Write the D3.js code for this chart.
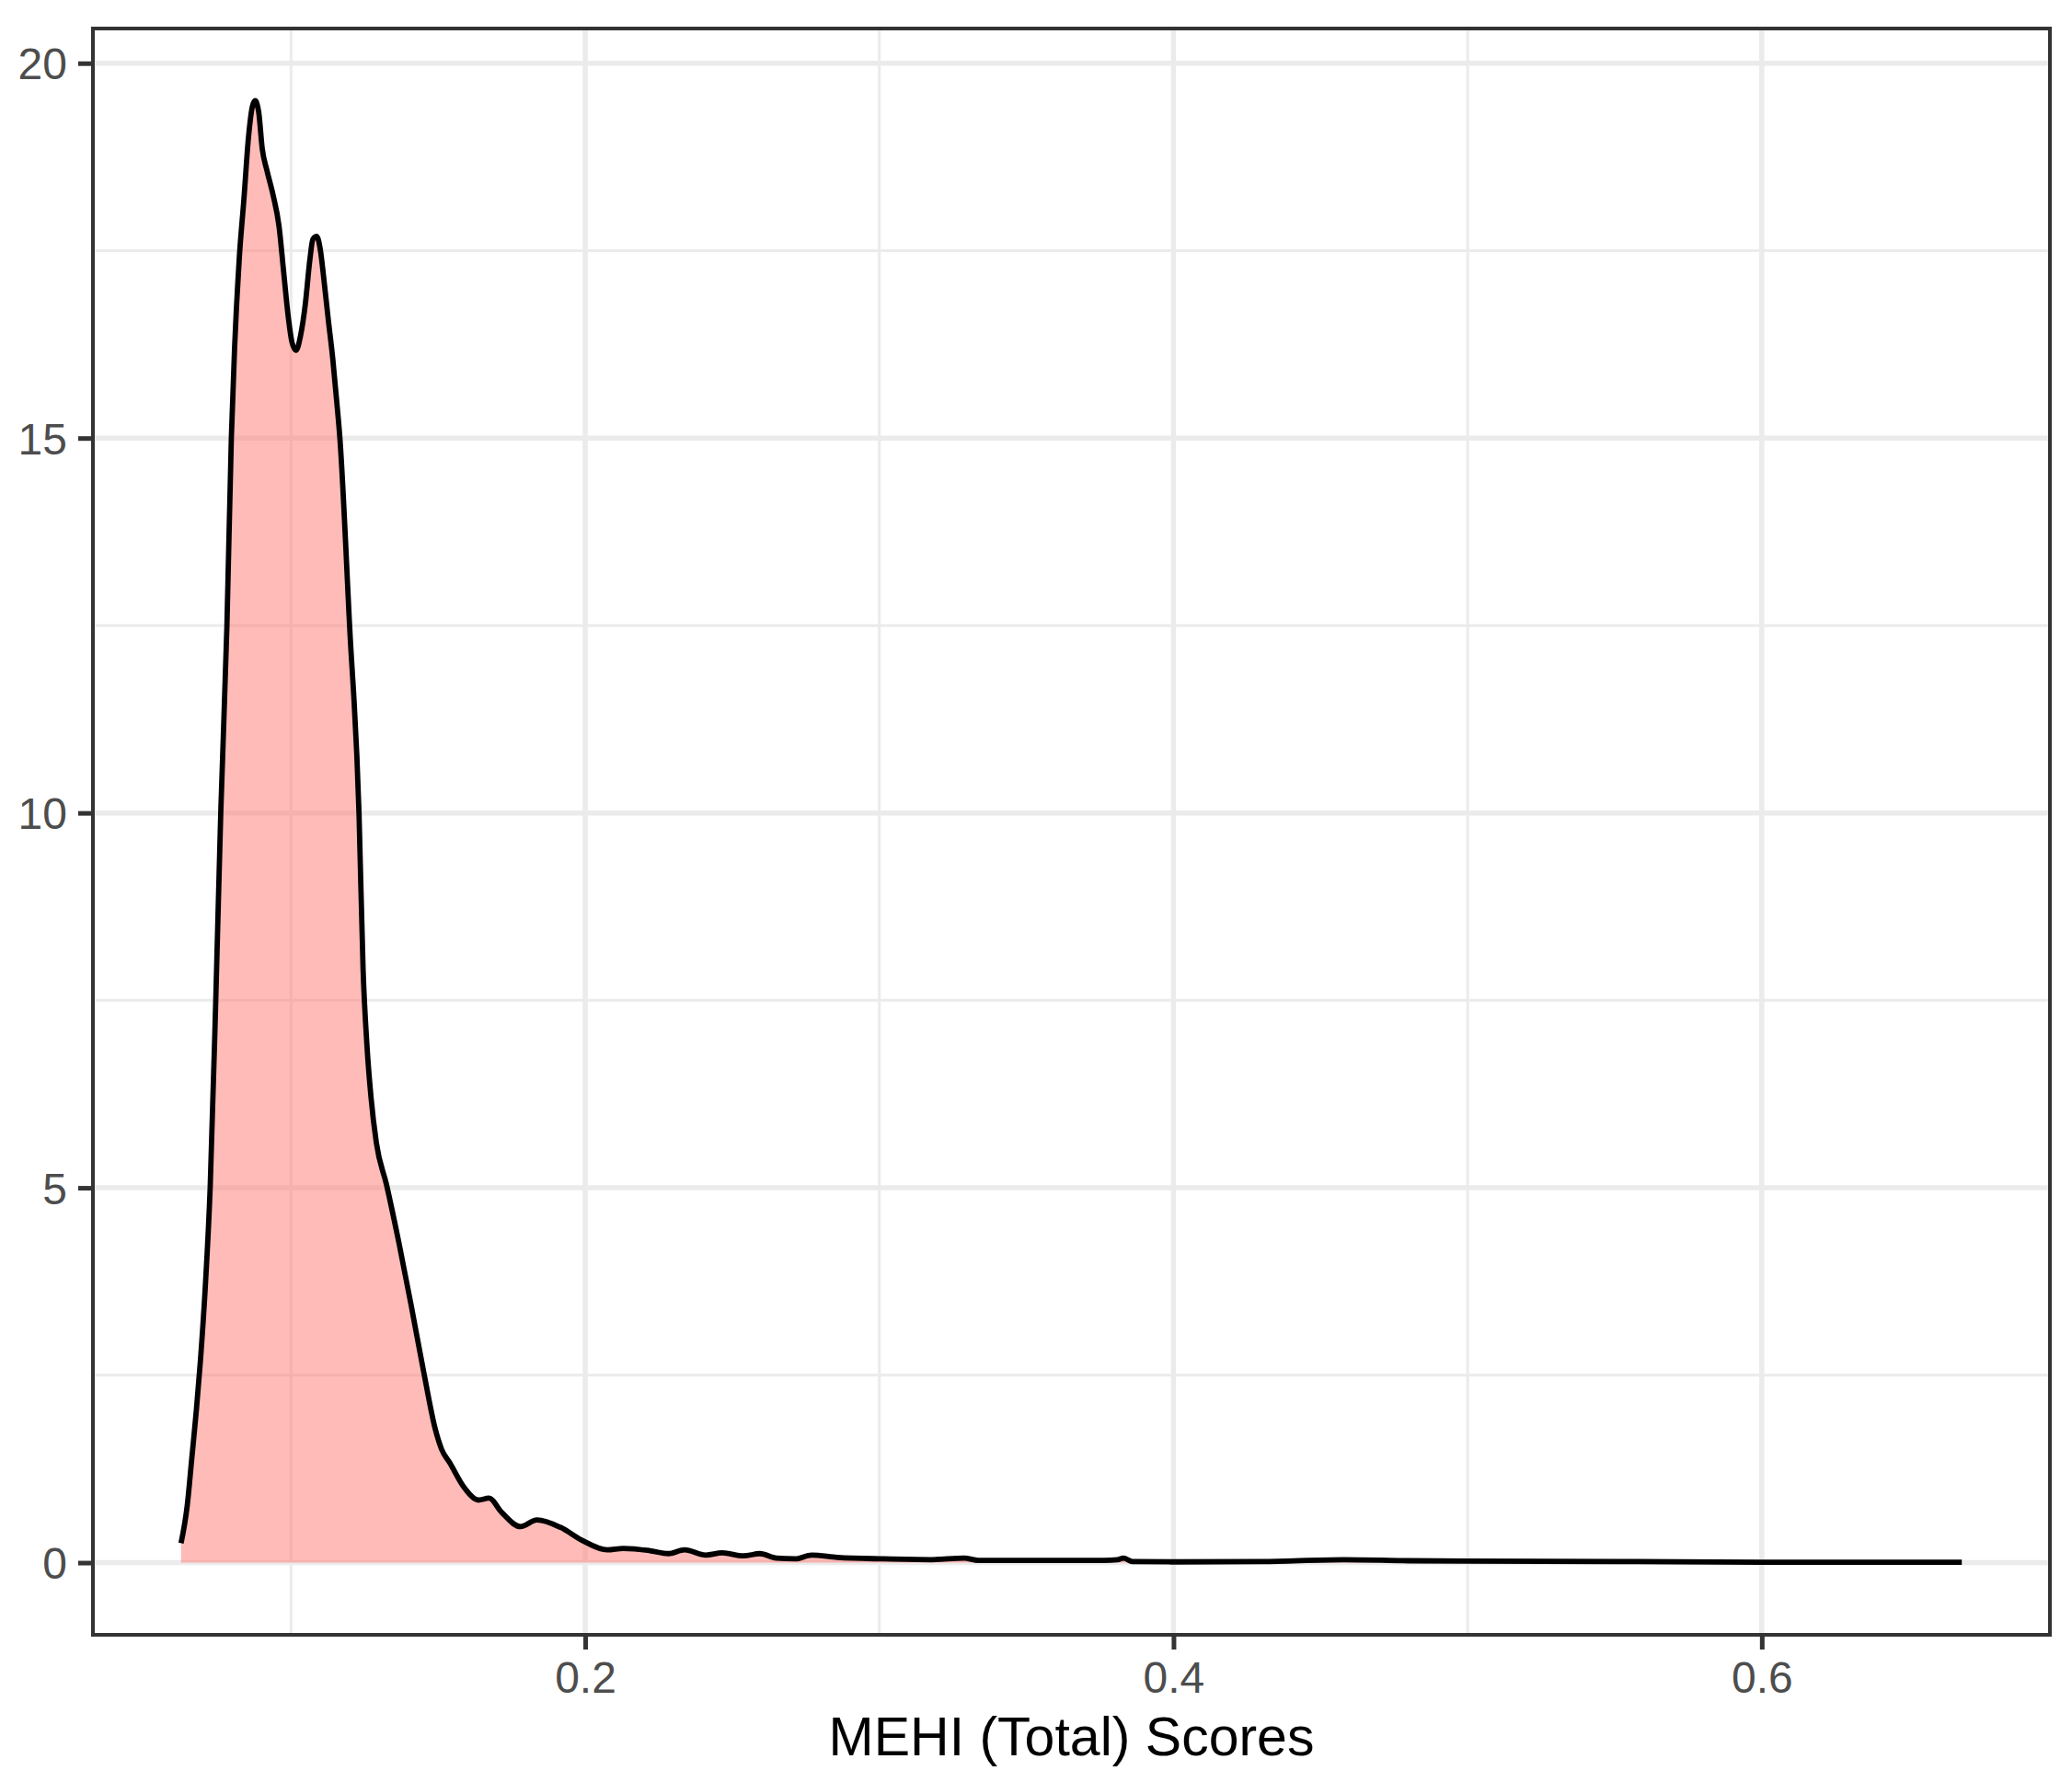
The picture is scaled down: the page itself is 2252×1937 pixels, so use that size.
<!DOCTYPE html>
<html>
<head>
<meta charset="utf-8">
<script src="https://cdn.jsdelivr.net/npm/d3@7"></script>
<style>
  html, body { margin: 0; padding: 0; background: #ffffff; }
  svg { display: block; }
</style>
</head>
<body>
<script>
// ---- Data ----
const scoreX = [0.0626, 0.0647, 0.0663, 0.0678, 0.0692, 0.0708, 0.0725, 0.0744, 0.0761, 0.0782,
  0.0797, 0.0808, 0.0824, 0.0840, 0.0855, 0.0869, 0.0878, 0.0890, 0.0902, 0.0918,
  0.0939, 0.0959, 0.0975, 0.0991, 0.1003, 0.1017, 0.1032, 0.1048, 0.1064, 0.1074,
  0.1087, 0.1100, 0.1111, 0.1126, 0.1142, 0.1155, 0.1166, 0.1199, 0.1231, 0.1245,
  0.1258, 0.1272, 0.1290, 0.1324, 0.1366, 0.1408, 0.1453, 0.1491, 0.1512, 0.1540,
  0.1589, 0.1637, 0.1673, 0.1716, 0.1780, 0.1836, 0.1916, 0.1988, 0.2075, 0.2130,
  0.2219, 0.2283, 0.2338, 0.2410, 0.2466, 0.2538, 0.2594, 0.2650, 0.2713, 0.2770,
  0.2857, 0.3016, 0.3176, 0.3289, 0.3336, 0.3500, 0.3764, 0.3810, 0.3830, 0.3860,
  0.4000, 0.4300, 0.4580, 0.4800, 0.5000, 0.5500, 0.6000, 0.6680];
const densityY = [0.26, 0.76, 1.41, 2.03, 2.70, 3.65, 5.00, 7.50, 10.0, 12.5,
  15.0, 16.2, 17.4, 18.2, 19.0, 19.43, 19.5, 19.35, 18.86, 18.57,
  18.24, 17.83, 17.21, 16.6, 16.28, 16.17, 16.36, 16.77, 17.38, 17.65,
  17.69, 17.5, 17.14, 16.6, 16.05, 15.5, 15.0, 12.5, 10.0, 7.9,
  6.9, 6.2, 5.6, 5.05, 4.28, 3.44, 2.5, 1.77, 1.51, 1.33,
  1.0, 0.835, 0.86, 0.67, 0.48, 0.57, 0.47, 0.30, 0.17, 0.19,
  0.16, 0.12, 0.17, 0.10, 0.13, 0.09, 0.12, 0.06, 0.05, 0.10,
  0.07, 0.05, 0.04, 0.06, 0.03, 0.03, 0.03, 0.04, 0.06, 0.015,
  0.01, 0.015, 0.04, 0.025, 0.02, 0.015, 0.006, 0.005];
const xMajorTicks = [0.2, 0.4, 0.6];
const xMinorTicks = [0.1, 0.3, 0.5];
const yMajorTicks = [0, 5, 10, 15, 20];
const yMinorTicks = [2.5, 7.5, 12.5, 17.5];
const xTickLabels = ["0.2", "0.4", "0.6"];
const yTickLabels = ["0", "5", "10", "15", "20"];
const xTitle = "MEHI (Total) Scores";

// ---- Layout ----
const W = 2252, H = 1937;
const L = 100, R = 2229, T = 30, B = 1778;
const FONT = "'Liberation Sans', Arial, Helvetica, sans-serif";

const data = scoreX.map((x, i) => ({ x, y: densityY[i] }));

const xr = d3.extent(scoreX);
const xpad = (xr[1] - xr[0]) * 0.05;
const ymax = d3.max(densityY);
const ypad = ymax * 0.05;

const x = d3.scaleLinear().domain([xr[0] - xpad, xr[1] + xpad]).range([L, R]);
const y = d3.scaleLinear().domain([0 - ypad, ymax + ypad]).range([B, T]);

const svg = d3.select("body").append("svg")
  .attr("width", W).attr("height", H)
  .attr("viewBox", `0 0 ${W} ${H}`);

svg.append("rect").attr("width", W).attr("height", H).attr("fill", "#ffffff");

const defs = svg.append("defs");
defs.append("clipPath").attr("id", "panel")
  .append("rect").attr("x", L).attr("y", T).attr("width", R - L).attr("height", B - T);

const panel = svg.append("g").attr("clip-path", "url(#panel)");

// minor grid
panel.selectAll("line.xminor").data(xMinorTicks).join("line")
  .attr("x1", d => x(d)).attr("x2", d => x(d)).attr("y1", T).attr("y2", B)
  .attr("stroke", "#EBEBEB").attr("stroke-width", 3);
panel.selectAll("line.yminor").data(yMinorTicks).join("line")
  .attr("y1", d => y(d)).attr("y2", d => y(d)).attr("x1", L).attr("x2", R)
  .attr("stroke", "#EBEBEB").attr("stroke-width", 3);
// major grid
panel.selectAll("line.xmajor").data(xMajorTicks).join("line")
  .attr("x1", d => x(d)).attr("x2", d => x(d)).attr("y1", T).attr("y2", B)
  .attr("stroke", "#EBEBEB").attr("stroke-width", 5.5);
panel.selectAll("line.ymajor").data(yMajorTicks).join("line")
  .attr("y1", d => y(d)).attr("y2", d => y(d)).attr("x1", L).attr("x2", R)
  .attr("stroke", "#EBEBEB").attr("stroke-width", 5.5);

// density area + upper outline
const curve = d3.curveMonotoneX;
panel.append("path").datum(data)
  .attr("d", d3.area().x(d => x(d.x)).y0(y(0)).y1(d => y(d.y)).curve(curve))
  .attr("fill", "#FF7872").attr("fill-opacity", 0.5);
panel.append("path").datum(data)
  .attr("d", d3.line().x(d => x(d.x)).y(d => y(d.y)).curve(curve))
  .attr("fill", "none").attr("stroke", "#000000").attr("stroke-width", 5.8)
  .attr("stroke-linejoin", "round").attr("stroke-linecap", "butt");

// panel border
svg.append("rect").attr("x", L + 1).attr("y", T + 1)
  .attr("width", R - L - 2).attr("height", B - T - 2)
  .attr("fill", "none").attr("stroke", "#333333").attr("stroke-width", 4);

// axes via d3 axis generators
const xAxis = d3.axisBottom(x).tickValues(xMajorTicks)
  .tickFormat((d, i) => xTickLabels[i]).tickSize(15).tickPadding(12);
const yAxis = d3.axisLeft(y).tickValues(yMajorTicks)
  .tickFormat((d, i) => yTickLabels[i]).tickSize(15).tickPadding(12);

const gx = svg.append("g").attr("transform", `translate(0,${B})`).call(xAxis);
const gy = svg.append("g").attr("transform", `translate(${L},0)`).call(yAxis);

[gx, gy].forEach(g => {
  g.select(".domain").remove();
  g.selectAll(".tick line").attr("stroke", "#333333").attr("stroke-width", 5);
  g.selectAll(".tick text")
    .attr("fill", "#4D4D4D")
    .style("font-family", FONT)
    .style("font-size", "48px");
});
gx.selectAll(".tick text").attr("dy", null).attr("y", 62);
gy.selectAll(".tick text").attr("dy", "0.36em");

// axis title
svg.append("text")
  .attr("x", (L + R) / 2).attr("y", 1908)
  .attr("text-anchor", "middle")
  .attr("fill", "#000000")
  .style("font-family", FONT)
  .style("font-size", "59px")
  .text(xTitle);
</script>
</body>
</html>
